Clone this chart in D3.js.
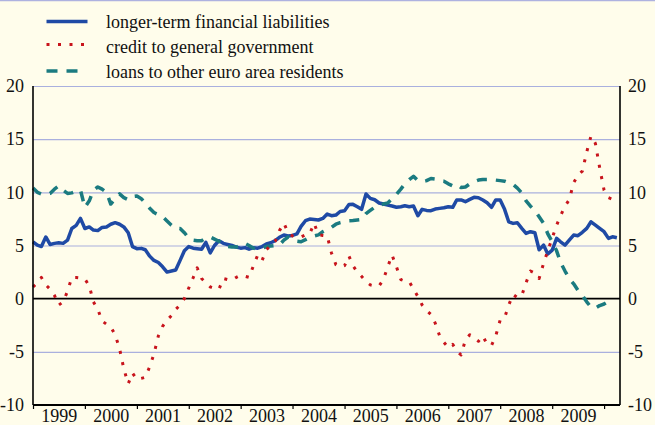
<!DOCTYPE html>
<html>
<head>
<meta charset="utf-8">
<script src="https://cdn.jsdelivr.net/npm/d3@7"></script>
</head>
<body style="margin:0">
<svg id="chart" width="655" height="425" style="font-family: 'Liberation Serif', 'Times New Roman', serif; font-size: 18px;"></svg>
<script>
// Monthly series, Jan 1999 .. Apr 2010 (annual percentage changes)
const liabilities = [
  5.35, 5.04, 4.9, 5.8, 5.1, 5.2, 5.25, 5.2, 5.5, 6.6, 6.9, 7.55,
  6.6, 6.75, 6.45, 6.4, 6.7, 6.75, 7.0, 7.15, 7.0, 6.75, 6.2, 4.9,
  4.7, 4.73, 4.6, 4.0, 3.6, 3.4, 3.0, 2.5, 2.6, 2.7, 3.6, 4.5,
  4.9, 4.75, 4.7, 4.65, 5.3, 4.3, 5.0, 5.45, 5.2, 5.1, 5.0, 4.85,
  4.75, 4.8, 4.65, 4.8, 4.75, 4.9, 5.14, 5.26, 5.45, 5.77, 5.98, 5.9,
  5.95, 6.1, 6.8, 7.33, 7.49, 7.45, 7.4, 7.55, 7.96, 7.8, 7.86, 8.2,
  8.27, 8.85, 8.87, 8.65, 8.4, 9.84, 9.43, 9.3, 9.0, 8.9, 8.8, 8.71,
  8.6, 8.65, 8.74, 8.65, 8.71, 7.8, 8.4, 8.3, 8.27, 8.43, 8.49, 8.55,
  8.65, 8.59, 9.28, 9.28, 9.12, 9.34, 9.53, 9.49, 9.28, 9.02, 8.59, 9.28,
  9.28, 8.4, 7.23, 7.08, 7.14, 6.61, 6.14, 6.3, 6.2, 4.6, 5.04, 4.2,
  4.57, 5.67, 5.35, 5.04, 5.51, 5.98, 5.92, 6.24, 6.61, 7.23, 6.92, 6.61,
  6.3, 5.67, 5.82, 5.73
];

const govCredit = [
  1.1, 1.5, 2.0, 1.3, 0.9, 0.3, -0.6, -0.3, 0.7, 2.0, 2.0, 1.95,
  1.85, 1.2, -0.3, -1.0, -2.1, -2.4, -2.65, -3.4, -4.7, -6.6, -8.0, -7.0,
  -7.6, -7.5, -7.4, -6.4, -5.2, -3.5, -2.6, -2.0, -1.6, -1.0, -0.6, 0.0,
  1.0, 1.97, 2.9, 1.9, 1.5, 1.1, 1.0, 0.87, 1.9, 1.8, 1.75, 2.0,
  2.2, 2.1, 2.0, 3.1, 4.1, 3.6, 4.6, 5.0, 5.4, 6.4, 7.1, 6.2,
  5.9, 5.75, 5.8, 6.0, 6.1, 7.1, 6.0, 5.95, 5.9, 4.3, 3.2, 2.95,
  3.1, 4.0, 3.1, 2.5, 2.1, 1.6, 1.3, 1.2, 1.2, 1.8, 3.0, 4.1,
  3.0, 1.8, 1.66, 1.6, 0.9, 0.2, -0.6, -1.1, -1.5, -2.3, -3.5, -4.1,
  -4.6, -4.3, -4.9, -5.3, -3.9, -3.4, -3.7, -4.0, -3.5, -4.3, -4.4, -3.5,
  -2.0, -1.8, -0.6, 0.4, 0.1, 0.3, 1.5, 2.6, 2.4, 1.9, 3.3, 4.5,
  5.7, 6.9, 7.8, 8.7, 9.3, 10.9, 11.6, 12.0, 13.8, 15.3, 14.6, 12.3,
  10.2, 9.5, 9.35, 9.2
];

const otherLoans = [
  10.4, 10.0, 9.85, 9.8, 9.9, 10.3, 10.6, 10.2, 9.9, 9.95, 10.1, 10.2,
  8.6, 9.2, 10.2, 10.5, 10.3, 10.0, 8.9, 9.4, 9.85, 9.5, 9.3, 9.6,
  9.65, 9.4, 9.0, 8.5, 8.1, 7.9, 7.7, 7.3, 6.9, 6.6, 6.6, 6.2,
  5.7, 5.5, 5.45, 5.45, 5.7, 5.8, 5.6, 5.4, 5.2, 4.9, 4.85, 4.85,
  5.0, 5.2, 5.0, 4.75, 4.65, 4.75, 4.9, 4.95, 5.0, 5.05, 5.5, 5.8,
  5.6, 5.4, 5.35, 5.55, 5.77, 5.9, 6.0, 6.3, 6.5, 6.7, 7.0, 7.15,
  7.25, 7.33, 7.35, 7.4, 7.45, 8.0, 8.3, 8.6, 8.75, 8.9, 9.0, 9.4,
  9.8, 10.3, 10.8, 11.2, 11.5, 11.1, 11.0, 11.1, 11.3, 11.25, 11.1, 11.05,
  10.8, 10.6, 10.75, 10.45, 10.5, 10.8, 11.0, 11.15, 11.2, 11.2, 11.2, 11.15,
  11.1, 11.05, 10.9, 10.75, 10.4, 9.95, 9.2, 8.7, 8.3, 7.7, 7.1, 6.1,
  5.35, 4.5, 3.4, 2.6, 1.9, 1.4, 0.8, 0.3, -0.3, -0.8, -0.9, -0.65,
  -0.5, -0.25, -0.2
];

const yearLabels = ["1999", "2000", "2001", "2002", "2003", "2004",
  "2005", "2006", "2007", "2008", "2009"];
const yTicks = [-10, -5, 0, 5, 10, 15, 20];

const series = [
  { name: "longer-term financial liabilities", values: liabilities, colour: "#1f4aa5", dash: null, width: 3.5 },
  { name: "loans to other euro area residents", values: otherLoans, colour: "#1b7b80", dash: "10,9", width: 3.5 },
  { name: "credit to general government", values: govCredit, colour: "#c8141c", dash: "3,8.5", width: 3 }
];
// legend rows: series index, marker y, text baseline
const legendRows = [[0, 21.5, 27.5], [2, 44.5, 52.5], [1, 71, 77.5]];

const width = 655;
const height = 425;
const margin = { left: 33, right: 35, top: 86, bottom: 20 };
const fontStack = "'Liberation Serif', 'Times New Roman', serif";

const svg = d3.select("#chart");

svg.append("rect")
  .attr("width", width)
  .attr("height", height)
  .attr("fill", "#fffdeb");

// thin frame line at the top
svg.append("line")
  .attr("x1", 0).attr("x2", width)
  .attr("y1", 0.5).attr("y2", 0.5)
  .attr("stroke", "#aeb2e0")
  .attr("stroke-width", 1.5);

const x = d3.scaleTime()
  .domain([new Date(1999, 0, 1), new Date(2010, 3, 23)])
  .range([margin.left, width - margin.right]);

const y = d3.scaleLinear()
  .domain([-10, 20])
  .range([height - margin.bottom, margin.top]);

const plotW = width - margin.right - margin.left;

function styleText(g) {
  g.attr("font-family", fontStack).attr("font-size", 18);
  g.selectAll("text")
    .attr("font-family", fontStack)
    .attr("font-size", 18)
    .attr("fill", "#111");
}

// gridlines
svg.append("g")
  .attr("transform", `translate(${margin.left},0)`)
  .call(d3.axisLeft(y).tickValues(yTicks.filter(d => d !== 0 && d !== -10)).tickSize(-plotW).tickFormat(""))
  .call(g => g.select(".domain").remove())
  .call(g => g.selectAll("line").attr("stroke", "#aab0de").attr("stroke-width", 1.2));

// zero line
svg.append("line")
  .attr("x1", margin.left).attr("x2", width - margin.right)
  .attr("y1", y(0)).attr("y2", y(0))
  .attr("stroke", "#000")
  .attr("stroke-width", 1.6);

// series
const line = d3.line()
  .x((d, i) => x(new Date(1999, i, 1)))
  .y(d => y(d));

series.forEach(s => {
  svg.append("path")
    .datum(s.values)
    .attr("fill", "none")
    .attr("stroke", s.colour)
    .attr("stroke-width", s.width)
    .attr("stroke-dasharray", s.dash)
    .attr("stroke-linejoin", "round")
    .attr("d", line);
});

// axes frame
svg.append("line")
  .attr("x1", margin.left).attr("x2", margin.left)
  .attr("y1", y(20)).attr("y2", y(-10))
  .attr("stroke", "#000").attr("stroke-width", 1.6);
svg.append("line")
  .attr("x1", width - margin.right).attr("x2", width - margin.right)
  .attr("y1", y(20)).attr("y2", y(-10))
  .attr("stroke", "#000").attr("stroke-width", 1.6);

// y labels
svg.append("g")
  .attr("transform", `translate(${margin.left},0)`)
  .call(d3.axisLeft(y).tickValues(yTicks).tickSize(0).tickPadding(9).tickFormat(d => String(d)))
  .call(g => g.select(".domain").remove())
  .call(styleText);

svg.append("g")
  .attr("transform", `translate(${width - margin.right},0)`)
  .call(d3.axisRight(y).tickValues(yTicks).tickSize(0).tickPadding(8).tickFormat(d => String(d)))
  .call(g => g.select(".domain").remove())
  .call(styleText);

// x axis: year boundary ticks
const yearStarts = d3.range(1999, 2011).map(yr => new Date(yr, 0, 1));
svg.append("g")
  .attr("transform", `translate(0,${y(-10)})`)
  .call(d3.axisBottom(x).tickValues(yearStarts).tickSize(4).tickFormat(""))
  .call(g => g.select(".domain").attr("stroke-width", 1.8).attr("d", `M${margin.left},0H${width - margin.right}`))
  .call(g => g.selectAll(".tick line").attr("stroke-width", 1.2));

// x labels centred in each year
svg.append("g")
  .attr("transform", `translate(0,${y(-10)})`)
  .call(d3.axisBottom(x)
    .tickValues(yearLabels.map(l => new Date(+l, 6, 1)))
    .tickSize(0).tickPadding(4)
    .tickFormat((d, i) => yearLabels[i]))
  .call(g => g.select(".domain").remove())
  .call(styleText);

// legend
const legend = svg.append("g").call(styleText);
legendRows.forEach(([idx, my, ty]) => {
  const s = series[idx];
  legend.append("line")
    .attr("x1", 46.5).attr("x2", idx === 2 ? 85.5 : (idx === 1 ? 80 : 87.5))
    .attr("y1", my).attr("y2", my)
    .attr("stroke", s.colour)
    .attr("stroke-width", s.width)
    .attr("stroke-dasharray", idx === 1 ? "11,9" : s.dash);
  legend.append("text")
    .attr("x", 106)
    .attr("y", ty)
    .attr("font-family", fontStack)
    .attr("font-size", 18)
    .attr("fill", "#111")
    .text(s.name);
});
</script>
</body>
</html>
